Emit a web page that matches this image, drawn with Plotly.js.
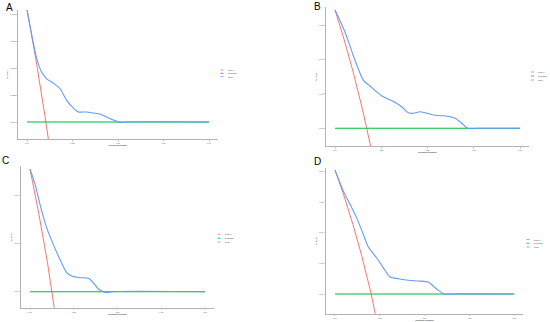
<!DOCTYPE html>
<html>
<head>
<meta charset="utf-8">
<script src="https://cdn.plot.ly/plotly-3.0.1.min.js"></script>
<style>html,body{margin:0;padding:0;background:#fff;}#chart{width:550px;height:322px;}</style>
</head>
<body>
<div id="chart"></div>
<script>
// ---------- data ----------
const panelLabels = ["A", "B", "C", "D"];
const seriesNames = ["Treat All", "Treat None", "Model"];
const xTickVals = [0, 0.25, 0.5, 0.75, 1];
const xTickText = ["0.00", "0.25", "0.50", "0.75", "1.00"];

const yTickValsA = [0, 0.025, 0.05, 0.075, 0.1];
const yTickTextA = ["0.000", "0.025", "0.050", "0.075", "0.100"];
const yTickValsB = [0, 0.05, 0.1, 0.15];
const yTickTextB = ["0.00", "0.05", "0.10", "0.15"];
const yTickValsC = [0, 0.05, 0.1];
const yTickTextC = ["0.00", "0.05", "0.10"];
const yTickValsD = [0, 0.05, 0.1, 0.15, 0.2];
const yTickTextD = ["0.00", "0.05", "0.10", "0.15", "0.20"];

// Treat None
const noneT = [0, 1];
const noneNB = [0, 0];

// Treat All
const allTA = [0, 0.05, 0.10, 0.15];
const allNBA = [0.104, 0.0568, 0.0044, -0.0541];
const allTB = [0, 0.05, 0.10, 0.15, 0.20, 0.25];
const allNBB = [0.172, 0.1284, 0.080, 0.0259, -0.035, -0.104];
const allTC = [0, 0.05, 0.10, 0.15, 0.20];
const allNBC = [0.127, 0.081, 0.030, -0.027, -0.091];
const allTD = [0, 0.05, 0.10, 0.15, 0.20, 0.25, 0.30];
const allNBD = [0.202, 0.160, 0.1133, 0.0612, 0.0025, -0.064, -0.140];

// Model
const modelTA = [0, 0.035, 0.053, 0.081, 0.108, 0.145, 0.181, 0.218, 0.254, 0.282, 0.328, 0.364, 0.401, 0.438, 0.474, 0.502, 0.52, 0.55, 1.0];
const modelNBA = [0.104, 0.073, 0.059, 0.046, 0.040, 0.036, 0.031, 0.020, 0.013, 0.0093, 0.0093, 0.0083, 0.0074, 0.0046, 0.0019, 0, -0.0005, 0, 0];
const modelTB = [0, 0.054, 0.108, 0.153, 0.189, 0.252, 0.324, 0.36, 0.396, 0.423, 0.459, 0.486, 0.531, 0.577, 0.622, 0.649, 0.685, 0.712, 0.739, 0.766, 1.0];
const modelNBB = [0.172, 0.140, 0.099, 0.070, 0.0615, 0.0474, 0.0378, 0.0314, 0.0227, 0.0218, 0.0241, 0.0227, 0.0193, 0.0183, 0.0169, 0.0145, 0.0073, 0.0009, -0.0006, 0, 0];
const modelTC = [0, 0.029, 0.057, 0.095, 0.133, 0.171, 0.21, 0.238, 0.286, 0.333, 0.362, 0.39, 0.419, 0.438, 0.467, 1.0];
const modelNBC = [0.127, 0.111, 0.0905, 0.0663, 0.049, 0.0335, 0.0197, 0.0163, 0.0145, 0.0139, 0.0093, 0.0031, 0, -0.001, 0, 0];
const modelTD = [0, 0.046, 0.084, 0.121, 0.158, 0.186, 0.232, 0.269, 0.307, 0.353, 0.409, 0.465, 0.52, 0.548, 0.576, 0.604, 0.628, 0.651, 1.0];
const modelNBD = [0.202, 0.168, 0.146, 0.124, 0.097, 0.0765, 0.059, 0.043, 0.0277, 0.0249, 0.0223, 0.0212, 0.0195, 0.013, 0.006, 0.0005, -0.0005, 0, 0];

// ---------- layout geometry (pixels) ----------
const W = 550, H = 322;
const geom = [
  {x0: 27, x1: 209, y0: 122, sp: 27, step: 0.025, top: 10, bottom: 139,
   leg: {kx: 220.5, tx: 225.5, ys: [70, 73.3, 76.6]}, lab: [9, 7.5]},
  {x0: 335, x1: 520, y0: 128.3, sp: 34.4, step: 0.05, top: 7, bottom: 146,
   leg: {kx: 531, tx: 536, ys: [72, 76, 80]}, lab: [317, 6.5]},
  {x0: 30, x1: 205, y0: 291.7, sp: 48.3, step: 0.05, top: 166, bottom: 307.7,
   leg: {kx: 217.5, tx: 222.5, ys: [234.3, 238.2, 242]}, lab: [5, 160]},
  {x0: 335, x1: 514.3, y0: 294, sp: 30.7, step: 0.05, top: 168, bottom: 313.7,
   leg: {kx: 526.5, tx: 531.5, ys: [239.5, 243.3, 247]}, lab: [317, 161.5]}
];

const colAll = "#F8766D", colNone = "#00BA38", colModel = "#619CFF";
const colors = [colAll, colNone, colModel];
const yTicks = [[yTickValsA, yTickTextA], [yTickValsB, yTickTextB], [yTickValsC, yTickTextC], [yTickValsD, yTickTextD]];
const allData = [[allTA, allNBA], [allTB, allNBB], [allTC, allNBC], [allTD, allNBD]];
const modelData = [[modelTA, modelNBA], [modelTB, modelNBB], [modelTC, modelNBC], [modelTD, modelNBD]];

const traces = [];
const layout = {
  width: W, height: H,
  margin: {l: 0, r: 0, t: 0, b: 0, pad: 0},
  paper_bgcolor: "#fff", plot_bgcolor: "#fff",
  showlegend: false,
  font: {family: "Liberation Sans, Arial, sans-serif", color: "#000"},
  annotations: [], shapes: []
};

geom.forEach((g, i) => {
  const n = i === 0 ? "" : String(i + 1);
  const xa = "x" + n, ya = "y" + n;
  const d = g.x1 - g.x0;
  const left = g.x0 - 0.05 * d, right = g.x1 + 0.05 * d;
  const axisCommon = {
    showline: true, linecolor: "#b3b3b3", linewidth: 1,
    ticks: "outside", ticklen: 1.5, tickwidth: 0.6, tickcolor: "#b3b3b3",
    showgrid: false, zeroline: false, fixedrange: true,
    tickfont: {size: 2, color: "#4d4d4d", family: "Liberation Sans, Arial, sans-serif"}
  };
  layout["xaxis" + n] = Object.assign({}, axisCommon, {
    domain: [left / W, right / W],
    range: [-0.05, 1.05],
    anchor: ya,
    tickvals: xTickVals, ticktext: xTickText,
    title: {text: "Threshold Probability", font: {size: 2, color: "#000"}, standoff: 1}
  });
  layout["yaxis" + n] = Object.assign({}, axisCommon, {
    domain: [1 - g.bottom / H, 1 - g.top / H],
    range: [(g.y0 - g.bottom) / g.sp * g.step, (g.y0 - g.top) / g.sp * g.step],
    anchor: xa,
    tickvals: yTicks[i][0], ticktext: yTicks[i][1],
    title: {text: "Net Benefit", font: {size: 2, color: "#000"}, standoff: 2}
  });

  traces.push({x: allData[i][0], y: allData[i][1], xaxis: xa, yaxis: ya, type: "scatter", mode: "lines",
    name: seriesNames[0], line: {color: colAll, width: 1}});
  traces.push({x: noneT, y: noneNB, xaxis: xa, yaxis: ya, type: "scatter", mode: "lines",
    name: seriesNames[1], line: {color: colNone, width: 1.1}});
  traces.push({x: modelData[i][0], y: modelData[i][1], xaxis: xa, yaxis: ya, type: "scatter", mode: "lines",
    name: seriesNames[2], line: {color: colModel, width: 1.1, shape: "spline", smoothing: 0.7}});

  // legend
  g.leg.ys.forEach((yy, k) => {
    layout.shapes.push({type: "line", xref: "paper", yref: "paper",
      x0: g.leg.kx / W, x1: (g.leg.kx + 3) / W, y0: 1 - yy / H, y1: 1 - yy / H,
      line: {color: colors[k], width: 0.8}});
    layout.annotations.push({xref: "paper", yref: "paper", x: g.leg.tx / W, y: 1 - yy / H,
      xanchor: "left", yanchor: "middle", showarrow: false, text: seriesNames[k],
      font: {size: 1.8, color: "#333"}});
  });
  // panel label
  layout.annotations.push({xref: "paper", yref: "paper", x: g.lab[0] / W, y: 1 - g.lab[1] / H,
    xanchor: "center", yanchor: "middle", showarrow: false, text: panelLabels[i],
    font: {size: 10, color: "#000", family: "Liberation Sans, Arial, sans-serif"}});
});

Plotly.newPlot("chart", traces, layout, {displayModeBar: false, staticPlot: true});
</script>
</body>
</html>
